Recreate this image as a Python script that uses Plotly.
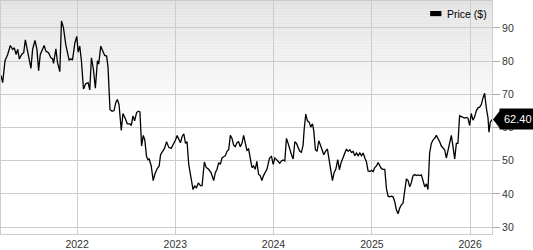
import pandas as pd
import plotly.graph_objects as go
from datetime import datetime, timedelta

# Decimal-year dates and closing prices
years = [
    2021.225, 2021.242, 2021.266, 2021.293, 2021.320, 2021.344, 2021.361, 2021.378, 2021.395, 2021.412,
    2021.435, 2021.456, 2021.473, 2021.496, 2021.513, 2021.530, 2021.547, 2021.571, 2021.591, 2021.608,
    2021.625, 2021.648, 2021.665, 2021.682, 2021.709, 2021.733, 2021.750, 2021.760, 2021.784, 2021.800,
    2021.824, 2021.841, 2021.861, 2021.885, 2021.919, 2021.936, 2021.953, 2021.977, 2021.997, 2022.011,
    2022.027, 2022.044, 2022.065, 2022.088, 2022.112, 2022.129, 2022.146, 2022.166, 2022.186, 2022.207,
    2022.220, 2022.241, 2022.261, 2022.281, 2022.301, 2022.315, 2022.335, 2022.356, 2022.376, 2022.396,
    2022.410, 2022.427, 2022.450, 2022.467, 2022.494, 2022.511, 2022.538, 2022.552, 2022.569, 2022.586,
    2022.606, 2022.623, 2022.640, 2022.657, 2022.674, 2022.690, 2022.707, 2022.721, 2022.734, 2022.755,
    2022.775, 2022.792, 2022.816, 2022.836, 2022.850, 2022.867, 2022.890, 2022.911, 2022.934, 2022.958,
    2022.978, 2023.002, 2023.019, 2023.036, 2023.053, 2023.070, 2023.087, 2023.104, 2023.120, 2023.137,
    2023.154, 2023.181, 2023.198, 2023.215, 2023.235, 2023.256, 2023.273, 2023.296, 2023.316, 2023.340,
    2023.364, 2023.391, 2023.408, 2023.425, 2023.442, 2023.459, 2023.476, 2023.493, 2023.510, 2023.527,
    2023.544, 2023.561, 2023.578, 2023.594, 2023.611, 2023.628, 2023.645, 2023.662, 2023.679, 2023.696,
    2023.713, 2023.730, 2023.747, 2023.764, 2023.781, 2023.797, 2023.814, 2023.831, 2023.848, 2023.865,
    2023.882, 2023.899, 2023.916, 2023.933, 2023.960, 2023.980, 2023.997, 2024.014, 2024.031, 2024.047,
    2024.064, 2024.081, 2024.098, 2024.115, 2024.132, 2024.149, 2024.166, 2024.183, 2024.200, 2024.217,
    2024.234, 2024.250, 2024.267, 2024.284, 2024.301, 2024.311, 2024.328, 2024.345, 2024.362, 2024.379,
    2024.396, 2024.409, 2024.426, 2024.443, 2024.460, 2024.477, 2024.494, 2024.511, 2024.528, 2024.548,
    2024.565, 2024.582, 2024.599, 2024.616, 2024.633, 2024.653, 2024.670, 2024.687, 2024.707, 2024.724,
    2024.741, 2024.758, 2024.775, 2024.792, 2024.809, 2024.826, 2024.843, 2024.860, 2024.877, 2024.894,
    2024.911, 2024.928, 2024.944, 2024.961, 2024.978, 2024.995, 2025.012, 2025.029, 2025.046, 2025.063,
    2025.080, 2025.097, 2025.114, 2025.131, 2025.148, 2025.165, 2025.182, 2025.199, 2025.215, 2025.232,
    2025.249, 2025.266, 2025.283, 2025.300, 2025.317, 2025.334, 2025.351, 2025.368, 2025.385, 2025.402,
    2025.419, 2025.436, 2025.453, 2025.470, 2025.487, 2025.504, 2025.521, 2025.538, 2025.555, 2025.571,
    2025.588, 2025.605, 2025.622, 2025.639, 2025.656, 2025.673, 2025.690, 2025.707, 2025.724, 2025.741,
    2025.758, 2025.775, 2025.792, 2025.809, 2025.826, 2025.843, 2025.860, 2025.876, 2025.893, 2025.910,
    2025.927, 2025.944, 2025.961, 2025.978, 2025.995, 2026.012, 2026.029, 2026.046, 2026.063, 2026.080,
    2026.097, 2026.114, 2026.131, 2026.148, 2026.165, 2026.182, 2026.192, 2026.206, 2026.223,
]
prices = [
    75.7, 73.5, 80.1, 82.0, 84.7, 83.5, 84.0, 82.0, 83.5, 80.6,
    82.0, 82.5, 86.4, 82.5, 80.1, 77.8, 83.5, 86.2, 83.5, 77.1,
    82.0, 83.5, 84.7, 83.0, 82.5, 81.0, 80.7, 79.3, 83.7, 79.6,
    76.8, 92.1, 90.1, 84.9, 80.3, 80.7, 80.3, 85.4, 87.4, 82.7,
    84.5, 80.1, 71.6, 73.2, 73.5, 71.3, 81.0, 77.6, 71.8, 80.1,
    79.1, 84.5, 83.0, 81.7, 81.5, 78.1, 65.4, 64.9, 65.1, 67.7,
    68.4, 66.9, 59.1, 64.2, 62.5, 61.1, 61.1, 60.6, 63.5, 62.0,
    64.5, 64.9, 64.7, 54.4, 57.6, 56.2, 51.3, 50.3, 50.5, 48.4,
    44.0, 45.9, 47.6, 48.4, 51.8, 52.8, 53.7, 55.7, 54.0, 53.7,
    54.7, 56.2, 57.6, 56.7, 55.4, 57.3, 58.1, 55.2, 55.7, 48.9,
    45.5, 41.3, 42.4, 41.8, 43.3, 42.5, 42.5, 49.6, 47.9, 47.4,
    46.4, 44.0, 46.4, 47.4, 49.4, 48.9, 50.8, 51.3, 51.5, 52.8,
    53.3, 57.6, 56.7, 54.7, 54.2, 55.4, 55.7, 54.2, 55.2, 57.6,
    55.2, 53.1, 53.5, 50.8, 47.9, 48.4, 47.4, 49.8, 45.9, 45.5,
    44.0, 45.5, 46.4, 47.4, 50.8, 51.3, 48.9, 50.8, 50.3, 49.9,
    49.2, 49.9, 50.2, 49.9, 56.7, 55.2, 53.3, 51.8, 50.5, 55.7,
    55.2, 53.8, 52.8, 52.5, 54.7, 59.1, 64.0, 62.0, 61.6, 60.1,
    61.1, 59.1, 53.3, 52.8, 56.0, 54.7, 53.3, 51.8, 52.8, 53.5,
    50.3, 46.4, 44.0, 46.4, 47.4, 50.3, 47.2, 49.4, 50.8, 52.3,
    53.5, 52.8, 53.3, 52.5, 52.8, 51.5, 52.3, 51.5, 52.3, 51.5,
    52.3, 50.8, 49.7, 46.9, 46.7, 47.1, 46.7, 47.9, 48.4, 49.4,
    48.4, 47.6, 47.4, 47.4, 41.6, 39.3, 39.1, 39.3, 39.1, 37.7,
    35.2, 34.0, 35.7, 36.7, 37.2, 41.6, 44.5, 44.0, 42.1, 43.5,
    45.5, 45.8, 45.5, 45.7, 45.5, 45.7, 44.0, 42.1, 43.0, 41.3,
    52.3, 55.2, 56.2, 56.7, 57.6, 56.7, 55.7, 54.4, 53.7, 53.3,
    50.8, 53.1, 55.2, 57.6, 54.2, 50.5, 55.2, 55.2, 63.5, 63.2,
    63.0, 62.8, 63.0, 62.8, 60.6, 64.2, 62.2, 63.2, 65.0, 65.9,
    66.1, 66.9, 68.9, 70.3, 65.9, 63.0, 58.6, 61.6, 62.40,
]
last_price = 62.40
series_name = "Price ($)"
y_ticks = [30, 40, 50, 60, 70, 80, 90]


def to_date(t):
    y = int(t)
    start = datetime(y, 1, 1)
    end = datetime(y + 1, 1, 1)
    return start + timedelta(seconds=(t - y) * (end - start).total_seconds())


dates = [to_date(t) for t in years]

FONT = "Liberation Sans, Arial, sans-serif"
GRID = "#cccccc"

fig = go.Figure()
fig.add_trace(go.Scatter(
    x=dates, y=prices, mode="lines",
    line=dict(color="#000000", width=1.3),
    showlegend=False, hoverinfo="skip",
))

# gradient background (light grey at top fading to white)
shapes = []
n = 40
top_c = 226
for i in range(n):
    y0 = 1 - (i + 1) * 0.5 / n
    y1 = 1 - i * 0.5 / n
    c = int(round(top_c + (255 - top_c) * (i + 0.5) / n))
    shapes.append(dict(type="rect", xref="paper", yref="paper", x0=0, x1=1, y0=y0, y1=y1,
                       fillcolor=f"rgb({c},{c},{c})", line=dict(width=0), layer="below"))

# legend swatch
shapes.append(dict(type="rect", xref="paper", yref="paper",
                   x0=0.874, x1=0.897, y0=0.935, y1=0.957,
                   fillcolor="#000000", line=dict(width=0)))
# price tag arrow
shapes.append(dict(type="path", xref="paper", yref="y", xsizemode="pixel", ysizemode="pixel",
                   xanchor=1, yanchor=last_price,
                   path="M 1,0 L 8,9 L 8,-9 Z", fillcolor="#000000", line=dict(width=0)))

annotations = [
    dict(text=series_name, xref="paper", yref="paper", x=0.905, y=0.946,
         xanchor="left", yanchor="middle", showarrow=False,
         font=dict(family=FONT, size=10.5, color="#000000")),
    dict(text=f"{last_price:.2f}", xref="paper", yref="y", x=1, y=last_price,
         xanchor="left", yanchor="middle", xshift=7, showarrow=False,
         bgcolor="#000000", borderpad=4,
         font=dict(family=FONT, size=11, color="#ffffff")),
]

fig.update_layout(
    width=533, height=250,
    margin=dict(l=0, r=41, t=0, b=10),
    paper_bgcolor="#ffffff", plot_bgcolor="rgba(0,0,0,0)",
    shapes=shapes, annotations=annotations,
    showlegend=False,
    font=dict(family=FONT, size=10.5, color="#333333"),
    xaxis=dict(
        type="date", range=[dates[0], dates[-1]],
        tickformat="%Y", dtick="M12", tick0="2022-01-01",
        showgrid=True, gridcolor=GRID, gridwidth=1,
        showline=True, linecolor=GRID, linewidth=1, mirror=True,
        ticks="", ticklabelstandoff=0, zeroline=False,
        tickfont=dict(family=FONT, size=10.5, color="#333333"),
    ),
    yaxis=dict(
        side="right", range=[27.9, 98.1], tickvals=y_ticks,
        showgrid=True, gridcolor=GRID, gridwidth=1,
        showline=True, linecolor=GRID, linewidth=1, mirror=True,
        ticks="outside", ticklen=7, tickcolor="#aaaaaa",
        zeroline=False,
        tickfont=dict(family=FONT, size=10.5, color="#333333"),
    ),
)

fig.write_html("out.html")
